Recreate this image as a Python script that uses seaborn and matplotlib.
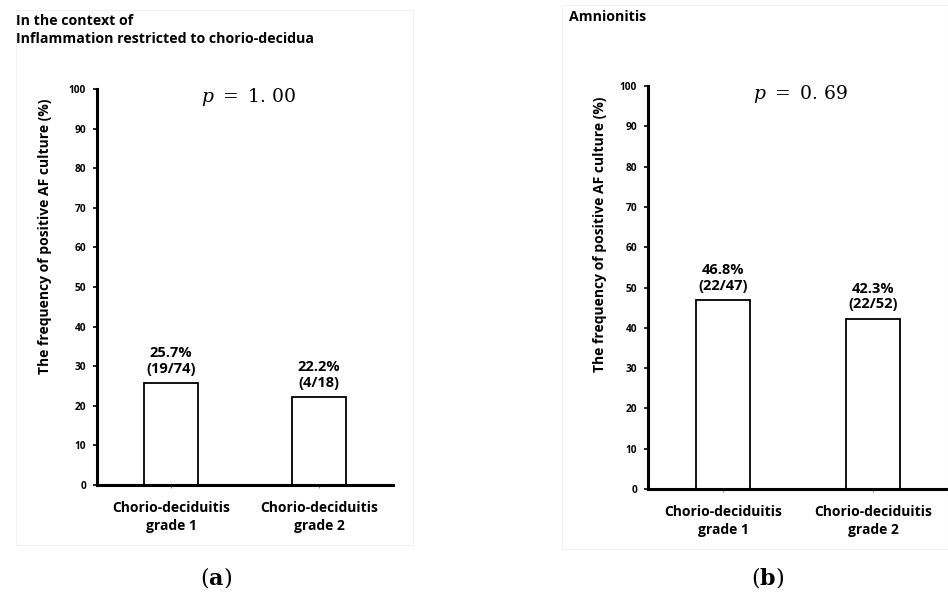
import matplotlib
matplotlib.use("Agg")
import matplotlib.pyplot as plt
import matplotlib.patches as mpatches
import seaborn as sns
import pandas as pd

categories = ["Chorio-deciduitis\ngrade 1", "Chorio-deciduitis\ngrade 2"]
values_a = [25.7, 22.2]
labels_a = ["25.7%\n(19/74)", "22.2%\n(4/18)"]
values_b = [46.8, 42.3]
labels_b = ["46.8%\n(22/47)", "42.3%\n(22/52)"]
yticks = [0, 10, 20, 30, 40, 50, 60, 70, 80, 90, 100]
title_a = "In the context of\nInflammation restricted to chorio-decidua"
title_b = "Amnionitis"
ptext_a = "1. 00"
ptext_b = "0. 69"
ylabel = "The frequency of positive AF culture (%)"

sns.set_style("white")
plt.rcParams['font.family'] = ['Open Sans', 'DejaVu Sans']
plt.rcParams['mathtext.fontset'] = 'dejavuserif'
plt.rcParams['text.color'] = 'black'
plt.rcParams['xtick.color'] = 'black'
plt.rcParams['ytick.color'] = 'black'

fig = plt.figure(figsize=(9.48, 6.01), dpi=100)

# faint panel frames
fig.patches.append(mpatches.Rectangle((16/948, 1-545/601), (413-16)/948, (545-10)/601,
                                      transform=fig.transFigure, fill=False,
                                      edgecolor='#f0f0f0', lw=0.8, zorder=0))
fig.patches.append(mpatches.Rectangle((562/948, 1-549/601), (948-562)/948, (549-5)/601,
                                      transform=fig.transFigure, fill=False,
                                      edgecolor='#f0f0f0', lw=0.8, zorder=0))

ax_a = fig.add_axes([97/948, 1-485/601, (393-97)/948, (485-89)/601])
ax_b = fig.add_axes([648/948, 1-489/601, (948-648)/948, (489-86)/601])


def draw(ax, vals, labs, ptext):
    df = pd.DataFrame({"cat": categories, "val": vals})
    sns.barplot(data=df, x="cat", y="val", color="white", edgecolor="black",
                linewidth=1.3, width=0.36, ax=ax, saturation=1)
    ax.set_xlim(-0.5, 1.5)
    ax.set_ylim(0, 100)
    ax.set_yticks(yticks)
    ax.set_yticklabels([str(t) for t in yticks], fontsize=7.3, fontweight='bold')
    ax.set_xticks([0, 1])
    ax.set_xticklabels(categories, fontsize=10, fontweight='bold', linespacing=1.4)
    ax.set_xlabel("")
    ax.set_ylabel("")
    for s in ["top", "right"]:
        ax.spines[s].set_visible(False)
    for s in ["left", "bottom"]:
        ax.spines[s].set_linewidth(2.2)
        ax.spines[s].set_color('black')
    ax.tick_params(axis='y', direction='out', length=3, width=1.2, pad=5, left=True)
    ax.tick_params(axis='x', direction='out', length=2.5, width=0.8, color='#888888',
                   pad=9, bottom=True)
    for i, (v, l) in enumerate(zip(vals, labs)):
        ax.text(i, v + 1.8, l, ha='center', va='bottom', fontsize=10.5,
                fontweight='bold', linespacing=1.15)
    ax.text(0.2, 98, r"$\mathit{p}$ $=$ " + ptext, ha='left', va='center',
            fontsize=13.5, family='DejaVu Serif', transform=ax.transData)
    ax.patch.set_alpha(0)


draw(ax_a, values_a, labels_a, ptext_a)
draw(ax_b, values_b, labels_b, ptext_b)

# y labels
fig.text(45/948, 1-236/601, ylabel, rotation=90, ha='center', va='center',
         fontsize=10, fontweight='bold')
fig.text(600/948, 1-234/601, ylabel, rotation=90, ha='center', va='center',
         fontsize=10, fontweight='bold')

# titles
fig.text(16/948, 1-30/601, title_a, ha='left', va='center', fontsize=10.2,
         fontweight='bold', linespacing=1.3)
fig.text(569/948, 1-17/601, title_b, ha='left', va='center', fontsize=10.2,
         fontweight='bold')

# panel labels
fig.text(216/948, 1-578/601, r"($\mathbf{a}$)", ha='center', va='center',
         fontsize=16, family='DejaVu Serif')
fig.text(768/948, 1-578/601, r"($\mathbf{b}$)", ha='center', va='center',
         fontsize=16, family='DejaVu Serif')

fig.savefig("out.png", dpi=100)
